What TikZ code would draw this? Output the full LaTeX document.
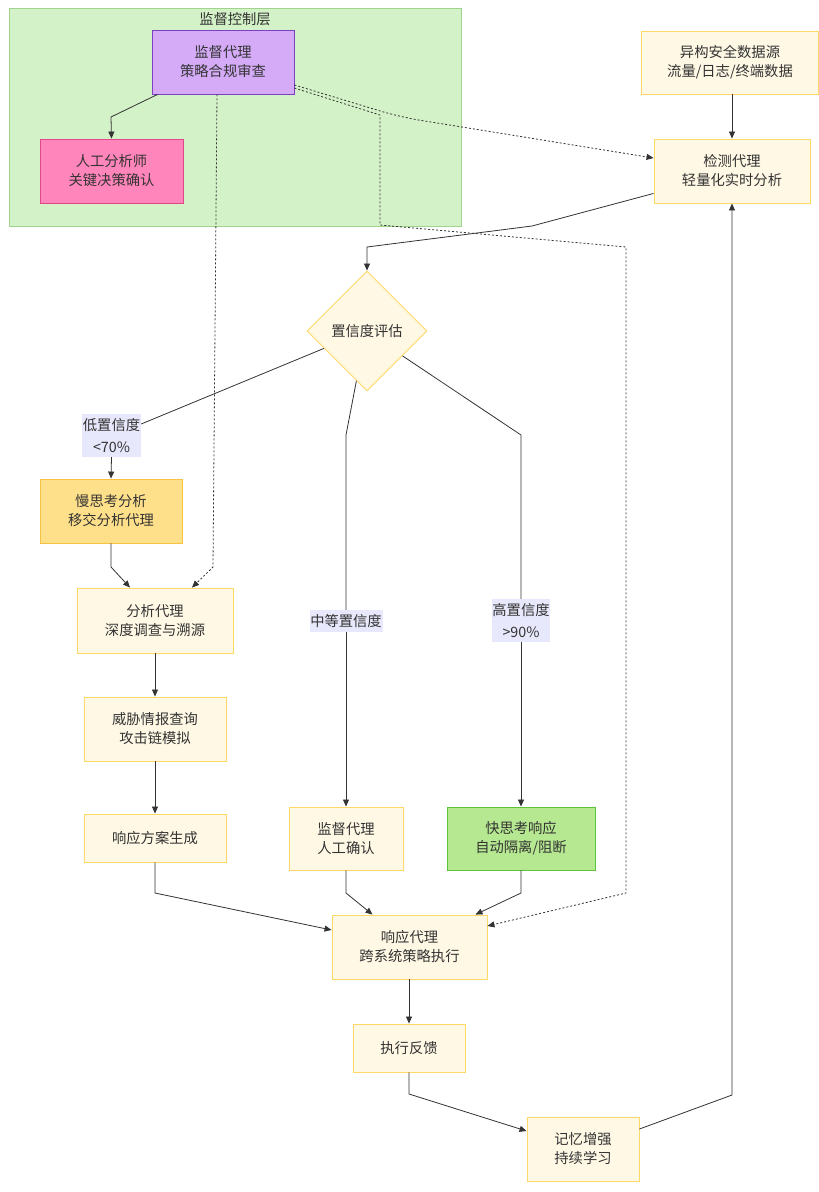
\documentclass[tikz,border=0pt]{standalone}
\usepackage{fontspec}
\setmainfont{Noto Sans CJK SC}
\usetikzlibrary{arrows.meta,shapes.geometric,calc}
\definecolor{txt}{HTML}{333333}
\definecolor{nfill}{HTML}{FFF8E5}
\definecolor{ndraw}{HTML}{FFD966}
\definecolor{clfill}{HTML}{D4F2C7}
\definecolor{cldraw}{HTML}{A0D38C}
\definecolor{pufill}{HTML}{D5ABF8}
\definecolor{pudraw}{HTML}{7B40C4}
\definecolor{pifill}{HTML}{FF85BA}
\definecolor{pidraw}{HTML}{E3468B}
\definecolor{slfill}{HTML}{FFE08A}
\definecolor{sldraw}{HTML}{F5C242}
\definecolor{grfill}{HTML}{B5E890}
\definecolor{grdraw}{HTML}{5CC43A}
\definecolor{lbfill}{HTML}{E8E8FC}
\definecolor{edge}{HTML}{333333}
\begin{document}
\begin{tikzpicture}[x=1pt,y=-1pt,
  every node/.style={text=txt, font=\fontsize{14.3}{19}\selectfont},
  box/.style={rectangle, draw=ndraw, fill=nfill, line width=0.9pt, align=center, inner sep=0pt},
  lbl/.style={rectangle, fill=lbfill, align=center, inner sep=0pt, font=\fontsize{14.3}{22}\selectfont},
  conn/.style={draw=edge, line width=0.8pt, -{Triangle[length=7pt,width=6pt]}},
  plain/.style={draw=edge, line width=0.8pt},
  dots/.style={draw=edge, line width=0.8pt, dash pattern=on 2pt off 2pt, -{Triangle[length=7pt,width=6pt]}}
]
\useasboundingbox (0,0) rectangle (819,1192);
\fill[white] (0,0) rectangle (819,1192);
% cluster
\node[draw=cldraw, fill=clfill, line width=1pt, minimum width=452, minimum height=218, inner sep=0pt] (cl) at (235,117) {};
\node (cltitle) at (235,19) {监督控制层};
% nodes
\node[box, draw=pudraw, fill=pufill, minimum width=142, minimum height=64] (sup) at (223,62) {监督代理\\策略合规审查};
\node[box, draw=pidraw, fill=pifill, minimum width=143, minimum height=64] (hum) at (111.5,171) {人工分析师\\关键决策确认};
\node[box, minimum width=177, minimum height=63] (src) at (730,62.5) {异构安全数据源\\流量/日志/终端数据};
\node[box, minimum width=156, minimum height=64] (det) at (732,171) {检测代理\\轻量化实时分析};
\node[diamond, draw=ndraw, fill=nfill, line width=0.9pt, minimum width=120, minimum height=120, inner sep=0pt, aspect=1] (conf) at (367,331) {置信度评估};
\node[lbl, minimum width=59, minimum height=43] (low) at (111.5,435.5) {低置信度\\<70\%};
\node[box, draw=sldraw, fill=slfill, minimum width=142, minimum height=64] (slow) at (111,511) {慢思考分析\\移交分析代理};
\node[box, minimum width=156, minimum height=65] (ana) at (155,620.5) {分析代理\\深度调查与溯源};
\node[box, minimum width=142, minimum height=64] (thr) at (155,729) {威胁情报查询\\攻击链模拟};
\node[box, minimum width=142, minimum height=48] (plan) at (155,838) {响应方案生成};
\node[lbl, minimum width=73, minimum height=22] (mid) at (346,621) {中等置信度};
\node[lbl, minimum width=58, minimum height=43] (high) at (521,620.5) {高置信度\\>90\%};
\node[box, minimum width=114, minimum height=63] (supc) at (346,838.5) {监督代理\\人工确认};
\node[box, draw=grdraw, fill=grfill, minimum width=148, minimum height=63] (fast) at (521,838.5) {快思考响应\\自动隔离/阻断};
\node[box, minimum width=155, minimum height=64] (resp) at (409.5,947) {响应代理\\跨系统策略执行};
\node[box, minimum width=112, minimum height=48] (fb) at (409,1048) {执行反馈};
\node[box, minimum width=112, minimum height=64] (mem) at (583,1149) {记忆增强\\持续学习};
% edges
\draw[conn] ($(sup.south west)+(6,0)$) -- (111,117) -- (hum.north);
\draw[dots, rounded corners=20pt] ($(sup.east)+(0,23)$) -- (400,117) -- ($(det.west)+(0,-13)$);
\draw[dots] ($(sup.south)+(-6,0)$) -- (213,567) -- ($(ana.north)+(37,0)$);
\draw[dots] ($(sup.east)+(0,26)$) -- (380,115) -- (380,225) -- (626,247) -- (626,893) -- ($(resp.east)+(0,-21)$);
\draw[conn] (src.south -| det.north) -- (det.north);
\draw[conn] ($(det.south west)+(0,-10)$) -- (532,226) -- (367,247) -- (conf.north);
\draw[conn] (mem.east |- 0,1129) -- (732,1095) -- (det.south);
\draw[plain] (conf.202) -- (low.east |- 0,424);
\draw[conn] (low.south) -- (slow.north);
\draw[plain] (conf.258) -- (346,435) -- (mid.north);
\draw[conn] (mid.south) -- (supc.north);
\draw[plain] (conf.325) -- (521,435) -- (high.north);
\draw[conn] (high.south) -- (fast.north);
\draw[conn] (slow.south) -- (111,567) -- ($(ana.north)+(-25,0)$);
\draw[conn] (ana.south) -- (thr.north);
\draw[conn] (thr.south) -- (plan.north);
\draw[conn] (plan.south) -- (155,893) -- ($(resp.west)+(0,-17)$);
\draw[conn] (supc.south) -- (346,893) -- ($(resp.north)+(-37,0)$);
\draw[conn] (fast.south) -- (521,893) -- ($(resp.north)+(66,0)$);
\draw[conn] (resp.south -| fb.north) -- (fb.north);
\draw[conn] (fb.south) -- (409,1094) -- ($(mem.west)+(0,-18)$);
\end{tikzpicture}
\end{document}
